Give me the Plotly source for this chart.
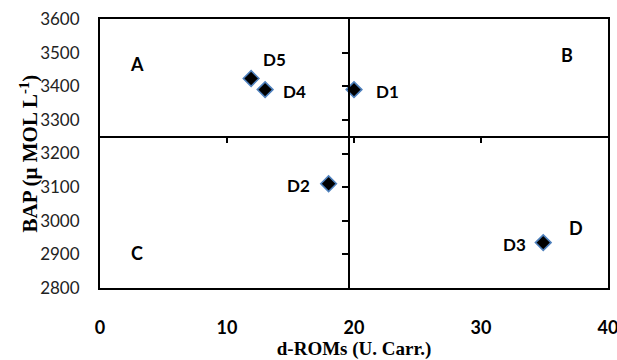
import plotly.graph_objects as go

# Data
names = ["D1", "D2", "D3", "D4", "D5"]
d_roms = [20.0, 18.0, 34.9, 13.0, 11.9]
bap = [3390, 3110, 2935, 3390, 3423]

quadrants = ["A", "B", "C", "D"]
quad_x = [2.9, 36.8, 2.9, 37.5]
quad_y = [3465, 3494, 2905, 2977]

x_ticks = [0, 10, 20, 30, 40]
y_ticks = [2800, 2900, 3000, 3100, 3200, 3300, 3400, 3500, 3600]
x_cross = 19.6   # where the vertical divider crosses the x axis
y_cross = 3250   # where the horizontal divider crosses the y axis

XR = [0, 40]
YR = [2800, 3600]

SANS = "Lato, Open Sans, sans-serif"
SERIF = "Liberation Serif, Times New Roman, serif"

fig = go.Figure()
fig.add_trace(go.Scatter(
    x=d_roms, y=bap, mode="markers",
    marker=dict(symbol="diamond", size=12, color="black",
                line=dict(color="#4f81bd", width=1.6)),
    showlegend=False, hoverinfo="skip"))
# empty trace to realise the crossing axes
fig.add_trace(go.Scatter(x=[None], y=[None], xaxis="x2", yaxis="y2",
                         showlegend=False, hoverinfo="skip"))

# point labels (pixel offsets from the marker)
offsets = {"D1": (33, 2), "D2": (-30, 2), "D3": (-29, 2),
           "D4": (29, 2), "D5": (23, -19)}
for n, xv, yv in zip(names, d_roms, bap):
    dx, dy = offsets[n]
    fig.add_annotation(x=xv, y=yv, text=n, showarrow=False, xshift=dx, yshift=-dy,
                       xanchor="center", yanchor="middle",
                       font=dict(family=SANS, size=17, color="black", weight="bold"))
for q, xv, yv in zip(quadrants, quad_x, quad_y):
    fig.add_annotation(x=xv, y=yv, text=q, showarrow=False,
                       xanchor="center", yanchor="middle",
                       font=dict(family=SANS, size=18, color="black", weight="bold"))

# y-axis title as annotation for exact placement
fig.add_annotation(xref="paper", yref="paper", x=-71 / 508, y=0.5,
                   text="BAP (μ MOL L<sup>-1</sup>)", textangle=-90, showarrow=False,
                   xanchor="center", yanchor="middle",
                   font=dict(family=SERIF, size=21, color="black", weight="bold"))

fig.update_layout(
    width=617, height=360,
    margin=dict(l=100, r=9, t=19, b=72),
    paper_bgcolor="white", plot_bgcolor="white",
    xaxis=dict(range=XR, tickvals=x_ticks, showgrid=False, zeroline=False,
               showline=True, mirror=True, linecolor="black", linewidth=2,
               ticks="", ticklabelstandoff=22, automargin=False,
               ticklabeloverflow="allow",
               tickfont=dict(family=SANS, size=18, color="black", weight="bold"),
               title=dict(text="d-ROMs (U. Carr.)", standoff=8,
                          font=dict(family=SERIF, size=19, color="black", weight="bold"))),
    yaxis=dict(range=YR, tickvals=y_ticks, showgrid=False, zeroline=False,
               showline=True, mirror=True, linecolor="black", linewidth=2,
               ticks="", ticklabelstandoff=15, automargin=False,
               ticklabeloverflow="allow",
               tickfont=dict(family=SANS, size=17, color="#222")),
    xaxis2=dict(range=XR, tickvals=x_ticks[1:-1], overlaying="x", anchor="free",
                position=(y_cross - YR[0]) / (YR[1] - YR[0]),
                showgrid=False, zeroline=False, showline=True, linecolor="black",
                linewidth=2, ticks="outside", ticklen=5, tickwidth=2,
                tickcolor="black", showticklabels=False),
    yaxis2=dict(range=YR, tickvals=y_ticks[1:-1], overlaying="y", anchor="free",
                position=(x_cross - XR[0]) / (XR[1] - XR[0]), side="left",
                showgrid=False, zeroline=False, showline=True, linecolor="black",
                linewidth=2, ticks="outside", ticklen=6, tickwidth=2,
                tickcolor="black", showticklabels=False),
)

# remove the default page margin so the 617x360 figure fills the window exactly
fig.write_html("out.html", config={"displayModeBar": False},
               post_script="document.body.style.margin='0';document.body.style.overflow='hidden';")
